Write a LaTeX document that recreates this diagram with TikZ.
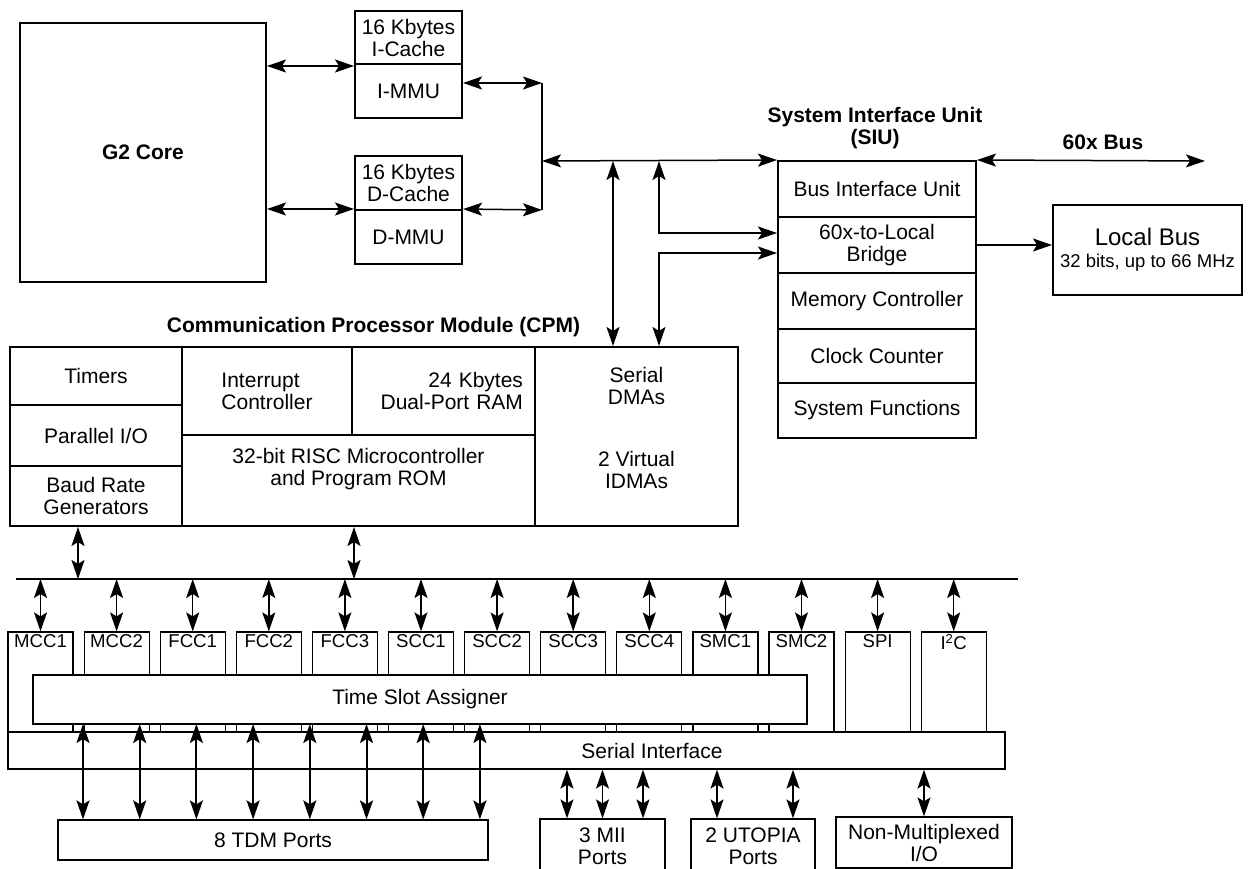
\documentclass[tikz,border=0pt]{standalone}
\usepackage{fontspec}
\setmainfont{Liberation Sans}
\usetikzlibrary{arrows.meta}

\begin{document}
\fontsize{21}{22}\selectfont
\begin{tikzpicture}[x=1pt,y=-1pt,align=center,
  bigtip/.tip={Stealth[length=19pt 0,width=13pt 0,inset=4pt 0]},
  box/.style={draw,line width=2pt,inner sep=0pt},
  cell/.style={draw,line width=1.4pt,inner sep=0pt},
  thin/.style={draw,line width=1.2pt,inner sep=0pt},
  title/.style={font=\bfseries},
  wire/.style={line width=1.5pt},
  link/.style={wire,bigtip-bigtip},
  feed/.style={wire,-bigtip}]
\useasboundingbox (0,0) rectangle (1248,869);
\clip (0,0) rectangle (1248,869);

% core and caches
\node[box,minimum width=246pt,minimum height=259pt,font=\bfseries] (core) at (143,152.5) {G2 Core};
\node[box,minimum width=107pt,minimum height=53pt] (icache) at (408.5,37.5) {16 Kbytes\\I-Cache};
\node[box,minimum width=107pt,minimum height=54pt] (immu) at (408.5,91) {I-MMU};
\node[box,minimum width=107pt,minimum height=54pt] (dcache) at (408.5,183) {16 Kbytes\\D-Cache};
\node[box,minimum width=107pt,minimum height=54pt] (dmmu) at (408.5,237) {D-MMU};
\draw[link] ([yshift=-3pt]immu.north west -| core.east) -- ([yshift=-3pt]immu.north west);
\draw[link] (dmmu.north west -| core.east) -- (dmmu.north west);

% SIU
\node[title] (siut) at (875,128) {System Interface Unit\\(SIU)};
\node[box,minimum width=198pt,minimum height=56pt] (biu) at (877,189) {Bus Interface Unit};
\node[box,minimum width=198pt,minimum height=56pt] (bridge) at (877,245) {60x-to-Local\\Bridge};
\node[box,minimum width=198pt,minimum height=56pt] (memctl) at (877,301) {Memory Controller};
\node[box,minimum width=198pt,minimum height=54pt] (clkcnt) at (877,356) {Clock Counter};
\node[box,minimum width=198pt,minimum height=55pt] (sysfn) at (877,410.5) {System Functions};
\node[title] (bust) at (1103,142) {60x Bus};
\coordinate (bus60) at (1205,161);
\draw[link] (biu.north east) -- (bus60);
\node[box,minimum width=189pt,minimum height=90pt] (local) at (1147.5,250)
  {{\fontsize{24}{26}\selectfont Local Bus}\\{\fontsize{18.5}{20}\selectfont 32 bits, up to 66 MHz}};
\draw[feed] (bridge.east) -- (bridge.east -| local.west);

% internal bus
\coordinate (jtop) at (542,83);
\coordinate (jbot) at (542,210);
\coordinate (jmid) at (542,161);
\draw[link] (immu.east |- jtop) -- (jtop);
\draw[link] (dmmu.north east) -- (jbot);
\draw[wire] (jtop) -- (jbot);
\draw[link] (jmid) -- (biu.north west);

% CPM
\node[title] (cpmt) at (373.5,327) {Communication Processor Module (CPM)};
\node[cell,minimum width=172pt,minimum height=58pt] (timers) at (96,376) {Timers};
\node[cell,minimum width=172pt,minimum height=61pt] (pio) at (96,435.5) {Parallel I/O};
\node[cell,minimum width=172pt,minimum height=60pt] (brg) at (96,496) {Baud Rate\\Generators};
\node[cell,minimum width=170pt,minimum height=88pt,align=left] (intc) at (267,391) {Interrupt\\Controller};
\node[cell,minimum width=183pt,minimum height=88pt,text width=159pt,align=right] (dpram) at (443.5,391) {24 Kbytes\\Dual-Port RAM};
\node[cell,minimum width=353pt,minimum height=91pt] (risc) at (358.5,480.5) {};
\node[anchor=north,yshift=-7pt] (risct) at (risc.north) {32-bit RISC Microcontroller\\and Program ROM};
\node[cell,minimum width=203pt,minimum height=179pt] (dmas) at (636.5,436.5) {};
\node[anchor=north,yshift=-14pt] (dmat) at (dmas.north) {Serial\\DMAs\\[40pt]2 Virtual\\IDMAs};
\node[box,minimum width=728pt,minimum height=179pt] (cpm) at (374,436.5) {};

\coordinate (tapa) at (613,161);
\coordinate (tapb) at (659,161);
\coordinate (tapc) at (659,233);
\coordinate (tapd) at (659,253);
\draw[link] (tapa) -- (tapa |- cpm.north);
\draw[link] (tapb) -- (tapc) -- (tapc -| bridge.west);
\draw[link] (tapd -| bridge.west) -- (tapd) -- (tapd |- cpm.north);

% peripheral bus
\coordinate (sbusl) at (16,579);
\coordinate (sbusr) at (1018,579);
\draw[wire] (sbusl) -- (sbusr);
\coordinate (tape) at (78,579);
\coordinate (tapf) at (354,579);
\draw[link] (tape |- cpm.south) -- (tape);
\draw[link] (tapf |- cpm.south) -- (tapf);

\foreach \name [count=\i from 0] in {MCC1,MCC2,FCC1,FCC2,FCC3,SCC1,SCC2,SCC3,SCC4,SMC1,SMC2,SPI,I\textsuperscript{2}C} {
  \node[thin,minimum width=65pt,minimum height=100pt,
    label={[anchor=north,inner sep=3pt,font=\fontsize{18.6}{20}\selectfont]north:\name}] (p\i) at ({40.5+76.1*\i},682) {};
  \draw[link] (p\i.north |- sbusl) -- (p\i.north);
}

\node[thin,fill=white,minimum width=774pt,minimum height=49pt] (tsa) at (420,699.5) {Time Slot Assigner};
\node[thin,fill=white,minimum width=997pt,minimum height=37pt] (si) at (506.5,750.5) {};
\node (sit) at (652,751) {Serial Interface};

% ports
\node[thin,minimum width=430pt,minimum height=40pt] (tdm) at (273,840) {8 TDM Ports};
\node[thin,minimum width=125pt,minimum height=55pt] (mii) at (602.5,846.5) {3 MII\\Ports};
\node[thin,minimum width=124pt,minimum height=55pt] (utopia) at (753,846.5) {2 UTOPIA\\Ports};
\node[thin,minimum width=176pt,minimum height=51pt] (nonmux) at (924,842.5) {Non-Multiplexed\\I/O};

\foreach \k in {0,...,7} {
  \coordinate (t\k) at ({83+56.7*\k},724);
  \draw[link,line width=2pt] (t\k) -- (t\k |- tdm.north);
}
\foreach \dx in {-35.5,0,40.5}
  \draw[link] ([xshift=\dx pt]mii.north |- si.south) -- ([xshift=\dx pt]mii.north);
\foreach \dx in {-36,40}
  \draw[link] ([xshift=\dx pt]utopia.north |- si.south) -- ([xshift=\dx pt]utopia.north);
\draw[link] (nonmux.north |- si.south) -- (nonmux.north);
\end{tikzpicture}
\end{document}
